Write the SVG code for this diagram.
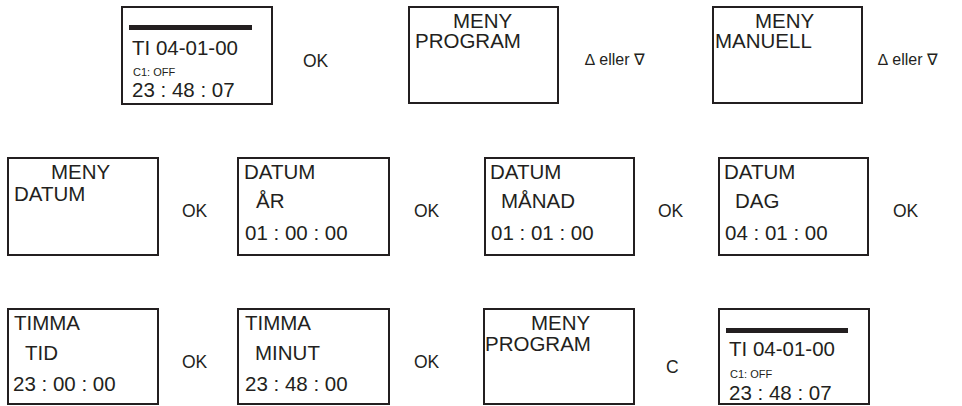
<svg xmlns="http://www.w3.org/2000/svg" width="962" height="406" viewBox="0 0 962 406">
<style>
.scr{fill:#fff;stroke:#231f20;stroke-width:2}
.bar{fill:#231f20}
text{font-family:"Liberation Sans",Arial,sans-serif;fill:#231f20}
.t{font-size:20.5px}
.s{font-size:11px}
.k{font-size:17.5px}
.d{font-size:16px}
</style>
<rect width="962" height="406" fill="#fff"/>
<g id="s1">
<rect class="scr" x="122" y="7" width="150" height="97"/>
<rect class="bar" x="129" y="25" width="123" height="5"/>
<text class="t" x="132" y="55">TI 04-01-00</text>
<text class="s" x="133" y="76">C1: OFF</text>
<text class="t" x="132" y="97">23 : 48 : 07</text>
</g>
<g id="s2">
<rect class="scr" x="409" y="7" width="149" height="96"/>
<text class="t" x="453" y="28">MENY</text>
<text class="t" x="415" y="48">PROGRAM</text>
</g>
<g id="s3">
<rect class="scr" x="713" y="7" width="149" height="96"/>
<text class="t" x="755" y="28">MENY</text>
<text class="t" x="715" y="48">MANUELL</text>
</g>
<g id="s4">
<rect class="scr" x="8" y="158" width="150" height="97"/>
<text class="t" x="51" y="179">MENY</text>
<text class="t" x="14" y="201">DATUM</text>
</g>
<g id="s5">
<rect class="scr" x="238" y="158" width="151" height="97"/>
<text class="t" x="244" y="179">DATUM</text>
<text class="t" x="256" y="208">ÅR</text>
<text class="t" x="245" y="240">01 : 00 : 00</text>
</g>
<g id="s6">
<rect class="scr" x="485" y="158" width="149" height="97"/>
<text class="t" x="490" y="179">DATUM</text>
<text class="t" x="501" y="208">MÅNAD</text>
<text class="t" x="491" y="240">01 : 01 : 00</text>
</g>
<g id="s7">
<rect class="scr" x="719" y="158" width="149" height="97"/>
<text class="t" x="724" y="179">DATUM</text>
<text class="t" x="735" y="208">DAG</text>
<text class="t" x="725" y="240">04 : 01 : 00</text>
</g>
<g id="s8">
<rect class="scr" x="8" y="309" width="150" height="95"/>
<text class="t" x="14" y="330">TIMMA</text>
<text class="t" x="25" y="360">TID</text>
<text class="t" x="13" y="391">23 : 00 : 00</text>
</g>
<g id="s9">
<rect class="scr" x="238" y="309" width="151" height="95"/>
<text class="t" x="245" y="330">TIMMA</text>
<text class="t" x="255" y="360">MINUT</text>
<text class="t" x="245" y="391">23 : 48 : 00</text>
</g>
<g id="s10">
<rect class="scr" x="484" y="309" width="150" height="95"/>
<text class="t" x="531" y="330">MENY</text>
<text class="t" x="485" y="351">PROGRAM</text>
</g>
<g id="s11">
<rect class="scr" x="719" y="309" width="150" height="95"/>
<rect class="bar" x="726" y="328" width="122" height="5"/>
<text class="t" x="729" y="356">TI 04-01-00</text>
<text class="s" x="730" y="378">C1: OFF</text>
<text class="t" x="729" y="400">23 : 48 : 07</text>
</g>
<g id="connectors">
<text class="k" x="303" y="67">OK</text>
<text class="d" x="585" y="65">∆ eller ∇</text>
<text class="d" x="878" y="65">∆ eller ∇</text>
<text class="k" x="182" y="217">OK</text>
<text class="k" x="414" y="217">OK</text>
<text class="k" x="658" y="217">OK</text>
<text class="k" x="893" y="217">OK</text>
<text class="k" x="182" y="368">OK</text>
<text class="k" x="414" y="368">OK</text>
<text class="k" x="666" y="373">C</text>
</g>
</svg>
